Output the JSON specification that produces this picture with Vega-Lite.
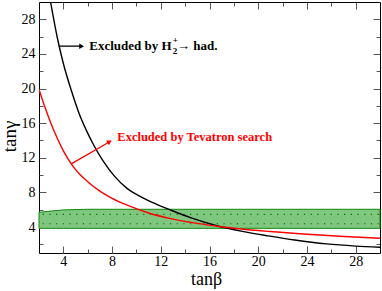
{
  "$schema": "https://vega.github.io/schema/vega-lite/v6.json",
  "width": 341,
  "height": 251,
  "autosize": "none",
  "padding": {"left": 39, "top": 2, "right": 2, "bottom": 38},
  "config": {
    "view": {"stroke": null},
    "axis": {
      "labelFont": "Liberation Serif", "labelFontSize": 14, "labelColor": "#000",
      "titleFont": "Liberation Serif", "titleFontWeight": "normal", "titleColor": "#000",
      "domainColor": "#000", "domainWidth": 1, "tickColor": "#555", "grid": false
    }
  },
  "datasets": {
    "band": [
      {"tb": 2, "lo": 3.85, "hi": 5.7},
      {"tb": 3, "lo": 3.85, "hi": 5.85},
      {"tb": 4, "lo": 3.85, "hi": 5.98},
      {"tb": 6, "lo": 3.85, "hi": 6.05},
      {"tb": 30, "lo": 3.85, "hi": 6.05}
    ],
    "dots": [
      {"tb": 2.35, "a": 4.38, "b": 5.47}, {"tb": 2.9, "a": 4.38, "b": 5.47}, {"tb": 3.45, "a": 4.38, "b": 5.47},
      {"tb": 4.0, "a": 4.38, "b": 5.47}, {"tb": 4.55, "a": 4.38, "b": 5.47}, {"tb": 5.1, "a": 4.38, "b": 5.47},
      {"tb": 5.65, "a": 4.38, "b": 5.47}, {"tb": 6.2, "a": 4.38, "b": 5.47}, {"tb": 6.75, "a": 4.38, "b": 5.47},
      {"tb": 7.3, "a": 4.38, "b": 5.47}, {"tb": 7.85, "a": 4.38, "b": 5.47}, {"tb": 8.4, "a": 4.38, "b": 5.47},
      {"tb": 8.95, "a": 4.38, "b": 5.47}, {"tb": 9.5, "a": 4.38, "b": 5.47}, {"tb": 10.05, "a": 4.38, "b": 5.47},
      {"tb": 10.6, "a": 4.38, "b": 5.47}, {"tb": 11.15, "a": 4.38, "b": 5.47}, {"tb": 11.7, "a": 4.38, "b": 5.47},
      {"tb": 12.25, "a": 4.38, "b": 5.47}, {"tb": 12.8, "a": 4.38, "b": 5.47}, {"tb": 13.35, "a": 4.38, "b": 5.47},
      {"tb": 13.9, "a": 4.38, "b": 5.47}, {"tb": 14.45, "a": 4.38, "b": 5.47}, {"tb": 15.0, "a": 4.38, "b": 5.47},
      {"tb": 15.55, "a": 4.38, "b": 5.47}, {"tb": 16.1, "a": 4.38, "b": 5.47}, {"tb": 16.65, "a": 4.38, "b": 5.47},
      {"tb": 17.2, "a": 4.38, "b": 5.47}, {"tb": 17.75, "a": 4.38, "b": 5.47}, {"tb": 18.3, "a": 4.38, "b": 5.47},
      {"tb": 18.85, "a": 4.38, "b": 5.47}, {"tb": 19.4, "a": 4.38, "b": 5.47}, {"tb": 19.95, "a": 4.38, "b": 5.47},
      {"tb": 20.5, "a": 4.38, "b": 5.47}, {"tb": 21.05, "a": 4.38, "b": 5.47}, {"tb": 21.6, "a": 4.38, "b": 5.47},
      {"tb": 22.15, "a": 4.38, "b": 5.47}, {"tb": 22.7, "a": 4.38, "b": 5.47}, {"tb": 23.25, "a": 4.38, "b": 5.47},
      {"tb": 23.8, "a": 4.38, "b": 5.47}, {"tb": 24.35, "a": 4.38, "b": 5.47}, {"tb": 24.9, "a": 4.38, "b": 5.47},
      {"tb": 25.45, "a": 4.38, "b": 5.47}, {"tb": 26.0, "a": 4.38, "b": 5.47}, {"tb": 26.55, "a": 4.38, "b": 5.47},
      {"tb": 27.1, "a": 4.38, "b": 5.47}, {"tb": 27.65, "a": 4.38, "b": 5.47}, {"tb": 28.2, "a": 4.38, "b": 5.47},
      {"tb": 28.75, "a": 4.38, "b": 5.47}, {"tb": 29.3, "a": 4.38, "b": 5.47}, {"tb": 29.85, "a": 4.38, "b": 5.47}
    ],
    "black": [
      {"tb": 2.95, "tg": 30},
      {"tb": 3.5, "tg": 25.9},
      {"tb": 4.0, "tg": 22.9},
      {"tb": 4.65, "tg": 19.8},
      {"tb": 5.3, "tg": 17.1},
      {"tb": 5.88, "tg": 15.2},
      {"tb": 6.5, "tg": 13.45},
      {"tb": 7.3, "tg": 11.55},
      {"tb": 8.21, "tg": 9.85},
      {"tb": 9.2, "tg": 8.5},
      {"tb": 10.3, "tg": 7.55},
      {"tb": 11.63, "tg": 6.65},
      {"tb": 13.0, "tg": 5.85},
      {"tb": 14.5, "tg": 5.05},
      {"tb": 16.59, "tg": 4.15},
      {"tb": 18.7, "tg": 3.5},
      {"tb": 20.83, "tg": 2.98},
      {"tb": 23.0, "tg": 2.5},
      {"tb": 25.62, "tg": 2.05},
      {"tb": 28.0, "tg": 1.8},
      {"tb": 30, "tg": 1.66}
    ],
    "red": [
      {"tb": 2, "tg": 19.9},
      {"tb": 2.5, "tg": 17.8},
      {"tb": 3.0, "tg": 15.9},
      {"tb": 3.5, "tg": 14.25},
      {"tb": 4.0, "tg": 12.8},
      {"tb": 4.65, "tg": 11.3},
      {"tb": 5.3, "tg": 10.15},
      {"tb": 6.0, "tg": 9.24},
      {"tb": 7.0, "tg": 8.15},
      {"tb": 8.0, "tg": 7.32},
      {"tb": 9.3, "tg": 6.5},
      {"tb": 11.0, "tg": 5.62},
      {"tb": 13.0, "tg": 4.92},
      {"tb": 15.0, "tg": 4.42},
      {"tb": 17.0, "tg": 4.03},
      {"tb": 19.0, "tg": 3.72},
      {"tb": 21.0, "tg": 3.48},
      {"tb": 23.4, "tg": 3.23},
      {"tb": 26.7, "tg": 2.94},
      {"tb": 30, "tg": 2.7}
    ],
    "karrow": [{"tb": 3.62, "tg": 24.9, "tb2": 5.5, "tg2": 24.9}],
    "rarrow": [{"tb": 4.65, "tg": 11.3, "tb2": 7.8, "tg2": 13.86}],
    "ktext": [
      {"tb": 6.13, "tg": 24.45, "t": "Excluded by H"},
      {"tb": 13.33, "tg": 24.45, "t": "→ had."}
    ],
    "ksub": [{"tb": 12.98, "tg": 24.0, "t": "2"}],
    "ksup": [{"tb": 12.98, "tg": 25.3, "t": "+"}],
    "rtext": [{"tb": 8.43, "tg": 13.97, "t": "Excluded by Tevatron search"}]
  },
  "layer": [
    {
      "data": {"name": "band"},
      "mark": {"type": "area", "color": "#7fc77f", "opacity": 1, "stroke": "#118811", "strokeWidth": 1},
      "encoding": {
        "x": {"field": "tb", "type": "quantitative", "scale": {"domain": [2, 30], "nice": false, "zero": false},
          "axis": {"orient": "bottom", "values": [4,8,12,16,20,24,28], "ticks": false,
            "labelPadding": 1, "title": "tanβ", "titleFontSize": 18,
            "titleX": 167, "titleY": 31, "titleAlign": "center", "titleBaseline": "alphabetic"}},
        "y": {"field": "lo", "type": "quantitative", "scale": {"domain": [1, 30], "nice": false, "zero": false},
          "axis": {"orient": "left", "values": [4,8,12,16,20,24,28], "ticks": false,
            "labelPadding": 4, "title": "tanγ", "titleFontSize": 19, "titleAngle": -90,
            "titleX": -24, "titleY": 134, "titleAlign": "center", "titleBaseline": "alphabetic"}},
        "y2": {"field": "hi"}
      }
    },
    {
      "data": {"name": "dots"},
      "transform": [{"fold": ["a", "b"], "as": ["row", "tg"]}],
      "mark": {"type": "point", "shape": "square", "filled": true, "color": "#0a6e0a", "size": 1.5, "opacity": 1},
      "encoding": {
        "x": {"field": "tb", "type": "quantitative", "axis": null},
        "y": {"field": "tg", "type": "quantitative", "axis": null}
      }
    },
    {
      "data": {"name": "black"},
      "mark": {"type": "line", "color": "#000", "strokeWidth": 1.4, "interpolate": "monotone", "clip": true},
      "encoding": {
        "x": {"field": "tb", "type": "quantitative", "scale": {"domain": [2, 30], "nice": false, "zero": false},
          "axis": {"orient": "bottom", "values": [4,6,8,10,12,14,16,18,20,22,24,26,28], "labels": false, "title": null, "domain": false,
            "tickSize": {"condition": {"test": "datum.value % 4 === 0", "value": -7}, "value": -4}}},
        "y": {"field": "tg", "type": "quantitative", "scale": {"domain": [1, 30], "nice": false, "zero": false},
          "axis": {"orient": "left", "values": [2,4,6,8,10,12,14,16,18,20,22,24,26,28], "labels": false, "title": null, "domain": false,
            "tickSize": {"condition": {"test": "datum.value % 4 === 0", "value": -7}, "value": -4}}}
      }
    },
    {
      "data": {"name": "red"},
      "mark": {"type": "line", "color": "#ff0000", "strokeWidth": 1.4, "interpolate": "monotone", "clip": true},
      "encoding": {
        "x": {"field": "tb", "type": "quantitative", "scale": {"domain": [2, 30], "nice": false, "zero": false},
          "axis": {"orient": "top", "values": [4,6,8,10,12,14,16,18,20,22,24,26,28], "labels": false, "title": null,
            "tickSize": {"condition": {"test": "datum.value % 4 === 0", "value": -7}, "value": -4}}},
        "y": {"field": "tg", "type": "quantitative", "scale": {"domain": [1, 30], "nice": false, "zero": false},
          "axis": {"orient": "right", "values": [2,4,6,8,10,12,14,16,18,20,22,24,26,28], "labels": false, "title": null,
            "tickSize": {"condition": {"test": "datum.value % 4 === 0", "value": -7}, "value": -4}}}
      }
    },
    {
      "data": {"name": "karrow"},
      "mark": {"type": "rule", "color": "#000", "strokeWidth": 1.3},
      "encoding": {
        "x": {"field": "tb", "type": "quantitative", "axis": null},
        "y": {"field": "tg", "type": "quantitative", "axis": null},
        "x2": {"field": "tb2"}, "y2": {"field": "tg2"}
      }
    },
    {
      "data": {"name": "karrow"},
      "mark": {"type": "point", "shape": "triangle-right", "filled": true, "color": "#000", "size": 30, "opacity": 1},
      "encoding": {
        "x": {"field": "tb2", "type": "quantitative", "axis": null},
        "y": {"field": "tg2", "type": "quantitative", "axis": null}
      }
    },
    {
      "data": {"name": "rarrow"},
      "mark": {"type": "rule", "color": "#ff0000", "strokeWidth": 1.3},
      "encoding": {
        "x": {"field": "tb", "type": "quantitative", "axis": null},
        "y": {"field": "tg", "type": "quantitative", "axis": null},
        "x2": {"field": "tb2"}, "y2": {"field": "tg2"}
      }
    },
    {
      "data": {"name": "rarrow"},
      "mark": {"type": "point", "shape": "triangle-right", "filled": true, "color": "#ff0000", "size": 30, "opacity": 1, "angle": 331},
      "encoding": {
        "x": {"field": "tb2", "type": "quantitative", "axis": null},
        "y": {"field": "tg2", "type": "quantitative", "axis": null}
      }
    },
    {
      "data": {"name": "ktext"},
      "mark": {"type": "text", "font": "Liberation Serif", "fontWeight": "bold", "fontSize": 13, "align": "left", "baseline": "alphabetic", "color": "#000"},
      "encoding": {
        "x": {"field": "tb", "type": "quantitative", "axis": null},
        "y": {"field": "tg", "type": "quantitative", "axis": null},
        "text": {"field": "t"}
      }
    },
    {
      "data": {"name": "ksub"},
      "mark": {"type": "text", "font": "Liberation Serif", "fontWeight": "bold", "fontSize": 9, "align": "left", "baseline": "alphabetic", "color": "#000"},
      "encoding": {
        "x": {"field": "tb", "type": "quantitative", "axis": null},
        "y": {"field": "tg", "type": "quantitative", "axis": null},
        "text": {"field": "t"}
      }
    },
    {
      "data": {"name": "ksup"},
      "mark": {"type": "text", "font": "Liberation Serif", "fontWeight": "bold", "fontSize": 9, "align": "left", "baseline": "alphabetic", "color": "#000"},
      "encoding": {
        "x": {"field": "tb", "type": "quantitative", "axis": null},
        "y": {"field": "tg", "type": "quantitative", "axis": null},
        "text": {"field": "t"}
      }
    },
    {
      "data": {"name": "rtext"},
      "mark": {"type": "text", "font": "Liberation Serif", "fontWeight": "bold", "fontSize": 12.5, "align": "left", "baseline": "alphabetic", "color": "#ff0000"},
      "encoding": {
        "x": {"field": "tb", "type": "quantitative", "axis": null},
        "y": {"field": "tg", "type": "quantitative", "axis": null},
        "text": {"field": "t"}
      }
    }
  ],
  "resolve": {"axis": {"x": "independent", "y": "independent"}}
}
